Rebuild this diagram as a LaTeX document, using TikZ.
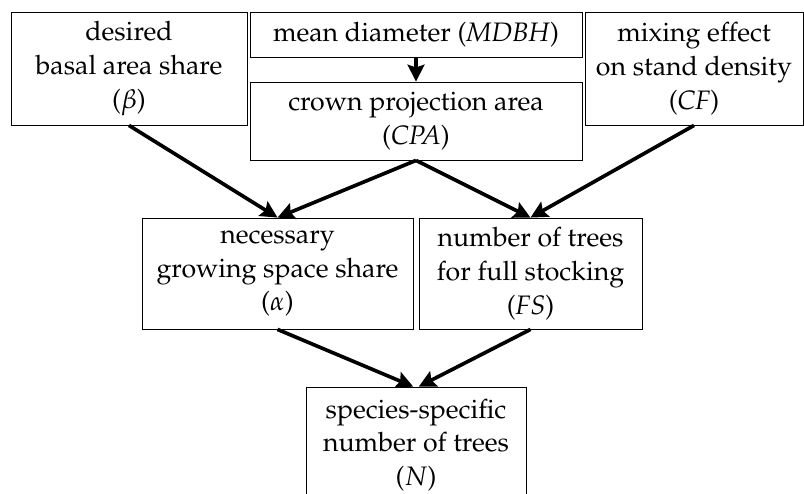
\documentclass[tikz,border=0pt]{standalone}
\usepackage[T1]{fontenc}
\usepackage{mathpazo}
\usetikzlibrary{arrows.meta}

\begin{document}
\begin{tikzpicture}[box/.style={draw, line width=0.6pt, align=center, inner sep=0pt,
                    font=\fontsize{19}{24}\selectfont},
                    arr/.style={line width=2.6pt, -{Stealth[length=12pt, width=12pt, inset=2pt]}}]
            % Frame of the picture
            \useasboundingbox (0,0) rectangle (20.1,-12.325);

            % Top row of inputs
            \node[box, minimum width=5.9cm, minimum height=2.825cm] (beta) at (3.225,-1.7125)
                {desired\\ basal area share\\ ($\beta$)};
            \node[box, minimum width=8.3cm, minimum height=1.125cm] (mdbh) at (10.4,-0.8625)
                {mean diameter ($\mathit{MDBH}$)};
            \node[box, minimum width=8.3cm, minimum height=1.95cm] (cpa) at (10.4,-3.025)
                {crown projection area\\ ($\mathit{CPA}$)};
            \node[box, minimum width=5.45cm, minimum height=2.825cm] (cf) at (17.35,-1.7125)
                {mixing effect\\ on stand density\\ ($\mathit{CF}$)};

            % Middle row
            \node[box, minimum width=6.775cm, minimum height=2.775cm] (alpha) at (6.9375,-6.8375)
                {necessary\\ growing space share\\ ($\alpha$)};
            \node[box, minimum width=5.575cm, minimum height=2.775cm] (fs) at (13.2625,-6.8375)
                {number of trees\\ for full stocking\\ ($\mathit{FS}$)};

            % Result (runs off the bottom edge)
            \node[box, minimum width=5.5cm, minimum height=2.9cm] (n) at (10.4,-11.125)
                {species-specific\\ number of trees\\ ($N$)};

            % Draw the arrows
            \draw[arr] (mdbh) -- (cpa);
            \draw[arr] (beta.south) -- (alpha.north);
            \draw[arr] (cpa.south) -- (alpha.north);
            \draw[arr] (cpa.south) -- (fs.north);
            \draw[arr] (cf.south) -- (fs.north);
            \draw[arr] (alpha.south) -- ([xshift=-2pt]n.north);
            \draw[arr] (fs.south) -- ([xshift=2pt]n.north);
        \end{tikzpicture}
\end{document}
